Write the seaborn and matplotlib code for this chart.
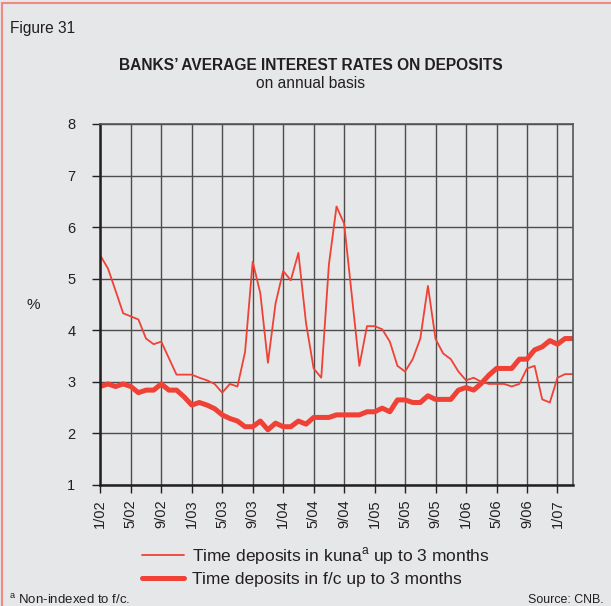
import numpy as np
import pandas as pd
import matplotlib
matplotlib.use('Agg')
import matplotlib.pyplot as plt
import seaborn as sns
from matplotlib.lines import Line2D

# monthly data, 1/02 .. 3/07
kuna = [5.45, 5.20, 4.77, 4.33, 4.27, 4.21, 3.84, 3.73, 3.78, 3.46,
        3.14, 3.14, 3.14, 3.08, 3.03, 2.96, 2.79, 2.96, 2.91, 3.58,
        5.33, 4.72, 3.37, 4.52, 5.15, 4.97, 5.50, 4.14, 3.26, 3.08,
        5.27, 6.40, 6.07, 4.69, 3.31, 4.08, 4.08, 4.02, 3.78, 3.31,
        3.20, 3.44, 3.84, 4.86, 3.83, 3.55, 3.44, 3.20, 3.03, 3.08,
        3.00, 2.96, 2.96, 2.96, 2.91, 2.96, 3.26, 3.31, 2.66, 2.60,
        3.08, 3.15, 3.15]
fx = [2.91, 2.96, 2.91, 2.96, 2.91, 2.79, 2.84, 2.84, 2.96, 2.84,
      2.84, 2.71, 2.55, 2.60, 2.55, 2.48, 2.36, 2.29, 2.24, 2.13,
      2.13, 2.24, 2.07, 2.20, 2.13, 2.13, 2.24, 2.18, 2.31, 2.31,
      2.31, 2.36, 2.36, 2.36, 2.36, 2.42, 2.42, 2.49, 2.42, 2.65,
      2.65, 2.60, 2.60, 2.73, 2.66, 2.66, 2.66, 2.84, 2.89, 2.84,
      2.97, 3.13, 3.26, 3.26, 3.26, 3.44, 3.44, 3.62, 3.68, 3.80,
      3.73, 3.84, 3.84]
tick_labels = ['1/02', '5/02', '9/02', '1/03', '5/03', '9/03', '1/04', '5/04',
               '9/04', '1/05', '5/05', '9/05', '1/06', '5/06', '9/06', '1/07']

months = np.arange(len(kuna))
df = pd.DataFrame({'month': months, 'kuna': kuna, 'fx': fx})

red = '#ef4136'
bg = '#e6e7e8'
ink = '#231f20'

sns.set_theme(style='white')
plt.rcParams['font.family'] = ['Liberation Sans', 'DejaVu Sans']
plt.rcParams['mathtext.fontset'] = 'custom'
plt.rcParams['mathtext.rm'] = 'Liberation Sans'

fig = plt.figure(figsize=(6.11, 6.06), dpi=100, facecolor=bg)
ax = fig.add_axes([100.3 / 611, 1 - 485 / 606, 472.4 / 611, 361 / 606])
ax.set_facecolor(bg)

sns.lineplot(data=df, x='month', y='kuna', ax=ax, color=red, lw=1.3,
             label='Time deposits in kuna$^{\\mathrm{a}}$ up to 3 months')
sns.lineplot(data=df, x='month', y='fx', ax=ax, color=red, lw=3.6,
             label='Time deposits in f/c up to 3 months')

ax.set_xlim(0, len(kuna) - 1)
ax.set_ylim(1, 8)
ax.set_xticks(np.arange(0, 61, 4))
ax.set_xticklabels(tick_labels, rotation=90)
ax.set_yticks(range(1, 9))
ax.set_xlabel('')
ax.set_ylabel('')
ax.grid(True, color='#4d4d4d', lw=1.0)
ax.set_axisbelow(True)
ax.tick_params(axis='both', labelsize=10.5, colors=ink, length=6,
               width=1.0, direction='out', bottom=True, left=True, pad=4)
ax.tick_params(axis='y', pad=12)
for s in ['top', 'right']:
    ax.spines[s].set_color('#555555')
    ax.spines[s].set_linewidth(1.2)
for s in ['left', 'bottom']:
    ax.spines[s].set_color(ink)
    ax.spines[s].set_linewidth(1.8)

leg = ax.legend(loc='upper left', bbox_to_anchor=(135 / 611, 1 - 538 / 606),
                bbox_transform=fig.transFigure, frameon=False, fontsize=12.5,
                handlelength=2.45, labelspacing=0.3, handletextpad=0.45,
                borderaxespad=0)
for t in leg.get_texts():
    t.set_color(ink)

fig.text(10 / 611, 1 - 28 / 606, 'Figure 31', fontsize=11.2, color=ink,
         va='center', ha='left')
fig.text(311 / 611, 1 - 66 / 606, 'BANKS\u2019 AVERAGE INTEREST RATES ON DEPOSITS',
         fontsize=11.2, fontweight='bold', color=ink, ha='center', va='center')
fig.text(311 / 611, 1 - 84 / 606, 'on annual basis', fontsize=11.2,
         color=ink, ha='center', va='center')
fig.text(33 / 611, 1 - 305 / 606, '%', fontsize=11, color=ink,
         ha='center', va='center')
fig.text(9 / 611, 1 - 600 / 606, '$^{\\mathrm{a}}$ Non-indexed to f/c.', fontsize=9.5,
         color=ink, ha='left', va='center')
fig.text(604 / 611, 1 - 600 / 606, 'Source: CNB.', fontsize=8.9,
         color=ink, ha='right', va='center')

# page border (left and top only)
fig.add_artist(Line2D([2 / 611, 2 / 611], [0, 1 - 3 / 606], transform=fig.transFigure,
                      color='#f08a80', lw=1.5))
fig.add_artist(Line2D([2 / 611, 1], [1 - 3 / 606, 1 - 3 / 606], transform=fig.transFigure,
                      color='#f08a80', lw=1.5))

fig.savefig('out.png', dpi=100, facecolor=bg)
